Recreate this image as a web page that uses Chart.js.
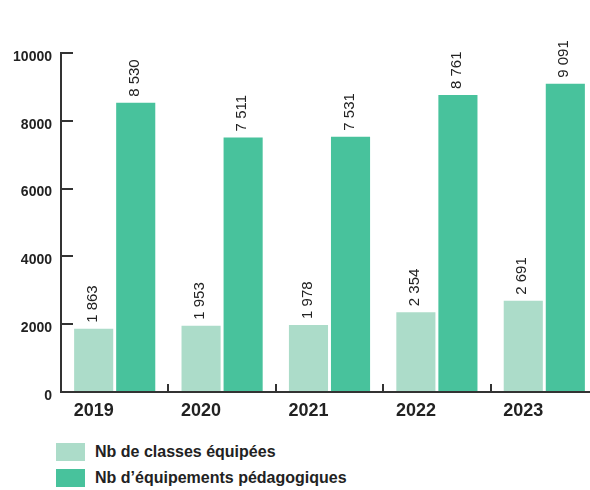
<!DOCTYPE html>
<html>
<head>
<meta charset="utf-8">
<style>
  html, body { margin: 0; padding: 0; background: #fff; overflow: hidden; }
  #wrap { position: relative; width: 598px; height: 490px; }
  #chart_box { position: absolute; left: 0; top: 0; width: 598px; height: 430px; }
  #legend { position: absolute; left: 56px; top: 443px; font-family: 'Liberation Sans', sans-serif; font-weight: bold; font-size: 16px; color: #222; }
  .item { display: flex; align-items: center; height: 18px; margin-bottom: 8px; }
  .swatch { width: 29px; height: 18px; margin-right: 10px; }
</style>
</head>
<body>
<div id="wrap">
  <div id="chart_box"><canvas id="myChart"></canvas></div>
  <div id="legend"></div>
</div>
<script src="https://cdn.jsdelivr.net/npm/chart.js@4.4.1/dist/chart.umd.min.js"></script>
<script>
    const years = ["2019", "2020", "2021", "2022", "2023"];
    const classes = [1863, 1953, 1978, 2354, 2691];
    const equipements = [8530, 7511, 7531, 8761, 9091];
    const yTicks = [0, 2000, 4000, 6000, 8000, 10000];
    const seriesNames = ["Nb de classes équipées", "Nb d’équipements pédagogiques"];
    const colors = ["#acdcc9", "#48c29c"];

    const textColor = "#222";
    const axisColor = "#333";

    Chart.defaults.font.family = "'Liberation Sans', sans-serif";

    function fmt(v) {
        return String(v).replace(/\B(?=(\d{3})+(?!\d))/g, " ");
    }

    // vertical value labels above each bar
    const valueLabels = {
        id: "valueLabels",
        afterDatasetsDraw(chart) {
            const ctx = chart.ctx;
            chart.data.datasets.forEach((ds, i) => {
                chart.getDatasetMeta(i).data.forEach((bar, j) => {
                    ctx.save();
                    ctx.translate(bar.x - 1, bar.y - 6);
                    ctx.rotate(-Math.PI / 2);
                    ctx.font = "15px 'Liberation Sans', sans-serif";
                    ctx.fillStyle = textColor;
                    ctx.textAlign = "left";
                    ctx.textBaseline = "middle";
                    ctx.fillText(fmt(ds.data[j]), 0, 0);
                    ctx.restore();
                });
            });
        }
    };

    const myChart = new Chart("myChart", {
        type: "bar",
        data: {
            labels: years,
            datasets: [
                { label: seriesNames[0], data: classes, backgroundColor: colors[0] },
                { label: seriesNames[1], data: equipements, backgroundColor: colors[1] }
            ]
        },
        options: {
            responsive: true,
            maintainAspectRatio: false,
            animation: false,
            categoryPercentage: 0.783,
            barPercentage: 0.93,
            layout: { padding: { top: 53, left: 0, right: 0, bottom: 0 } },
            plugins: {
                legend: { display: false },
                tooltip: { enabled: false }
            },
            scales: {
                x: {
                    grid: { offset: true, drawOnChartArea: false, tickLength: -8, color: axisColor, lineWidth: 2 },
                    border: { color: axisColor, width: 2 },
                    ticks: { labelOffset: -21, padding: 16, maxRotation: 0, color: textColor, font: { size: 18, weight: "bold" } },
                    afterFit: s => { s.height = 38; }
                },
                y: {
                    min: 0,
                    max: 10000,
                    grid: { drawOnChartArea: false, tickLength: -12, color: axisColor, lineWidth: 2 },
                    border: { color: axisColor, width: 2 },
                    ticks: { padding: 21, labelOffset: 4, color: textColor, font: { size: 14, weight: "bold" },
                             callback: v => String(v) },
                    afterBuildTicks: s => { s.ticks = yTicks.map(v => ({ value: v })); },
                    afterFit: s => { s.width = 61; }
                }
            }
        },
        plugins: [valueLabels]
    });

    // legend under the chart, built from the datasets
    const legend = document.getElementById("legend");
    myChart.data.datasets.forEach(ds => {
        const item = document.createElement("div");
        item.className = "item";
        const sw = document.createElement("span");
        sw.className = "swatch";
        sw.style.background = ds.backgroundColor;
        const txt = document.createElement("span");
        txt.textContent = ds.label;
        item.appendChild(sw);
        item.appendChild(txt);
        legend.appendChild(item);
    });
</script>
</body>
</html>
